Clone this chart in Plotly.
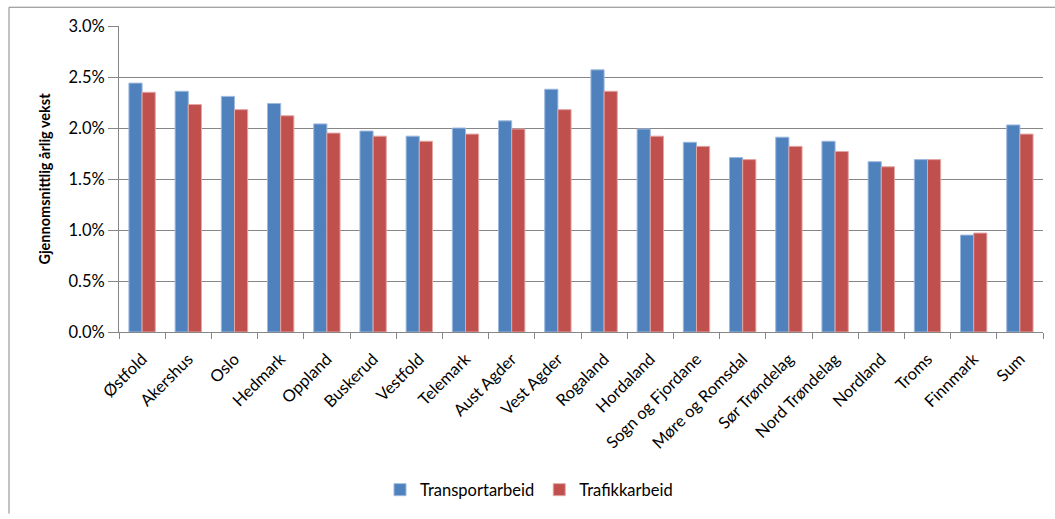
import plotly.graph_objects as go

categories = ["Østfold", "Akershus", "Oslo", "Hedmark", "Oppland", "Buskerud", "Vestfold",
              "Telemark", "Aust Agder", "Vest Agder", "Rogaland", "Hordaland",
              "Sogn og Fjordane", "Møre og Romsdal", "Sør Trøndelag", "Nord Trøndelag",
              "Nordland", "Troms", "Finnmark", "Sum"]
transportarbeid = [0.0244, 0.0236, 0.0231, 0.0224, 0.0204, 0.0197, 0.0192,
                   0.0200, 0.0207, 0.0238, 0.0257, 0.0199,
                   0.0186, 0.0171, 0.0191, 0.0187,
                   0.0167, 0.0169, 0.0095, 0.0203]
trafikkarbeid = [0.0235, 0.0223, 0.0218, 0.0212, 0.0195, 0.0192, 0.0187,
                 0.0194, 0.0199, 0.0218, 0.0236, 0.0192,
                 0.0182, 0.0169, 0.0182, 0.0177,
                 0.0162, 0.0169, 0.0097, 0.0194]
y_ticks = [0, 0.005, 0.01, 0.015, 0.02, 0.025, 0.03]

W, H = 1055, 519
L, R, T, B = 119, 1043, 26, 336
pw, ph = R - L, B - T

def px(x):
    return (x - L) / pw

def py(y):
    return (B - y) / ph

fig = go.Figure()
fig.add_trace(go.Bar(x=categories, y=transportarbeid, name="Transportarbeid",
                     marker=dict(color="#4F81BD", line=dict(color="#9DB9DE", width=1))))
fig.add_trace(go.Bar(x=categories, y=trafikkarbeid, name="Trafikkarbeid",
                     marker=dict(color="#C0504D", line=dict(color="#E2A6A4", width=1))))

font = "Lato, 'Open Sans', sans-serif"
fig.update_layout(
    width=W, height=H,
    margin=dict(l=L, r=W - R, t=T, b=H - B, pad=0),
    paper_bgcolor="white", plot_bgcolor="white",
    barmode="group", bargap=0.43, bargroupgap=0,
    font=dict(family=font, size=16.5, color="#000000"),
    legend=dict(orientation="h", x=px(380), y=py(496), xanchor="left", yanchor="middle",
                font=dict(size=16.5), itemwidth=30, traceorder="normal"),
    showlegend=True,
    xaxis=dict(tickangle=-45, tickson="boundaries", ticks="outside", ticklen=6,
               tickcolor="#868686", showline=True, linecolor="#868686", linewidth=1,
               showgrid=False, tickfont=dict(size=16.5), ticklabelstandoff=10),
    yaxis=dict(range=[0, 0.03], tickvals=y_ticks, tickformat=".1%", ticks="outside",
               ticklen=10, tickcolor="#868686", showline=True, linecolor="#868686",
               linewidth=1, showgrid=True, gridcolor="#868686", gridwidth=1,
               zeroline=False, tickfont=dict(size=16.5),
               title=dict(text="<b>Gjennomsnittlig årlig vekst</b>", font=dict(size=14.5),
                          standoff=14)),
    shapes=[
        dict(type="line", xref="paper", yref="paper", x0=px(9), x1=px(1056), y0=py(7), y1=py(7),
             line=dict(color="#868686", width=1)),
        dict(type="line", xref="paper", yref="paper", x0=px(9), x1=px(9), y0=py(7), y1=py(520),
             line=dict(color="#868686", width=1)),
    ],
)

fig.write_html("out.html")
